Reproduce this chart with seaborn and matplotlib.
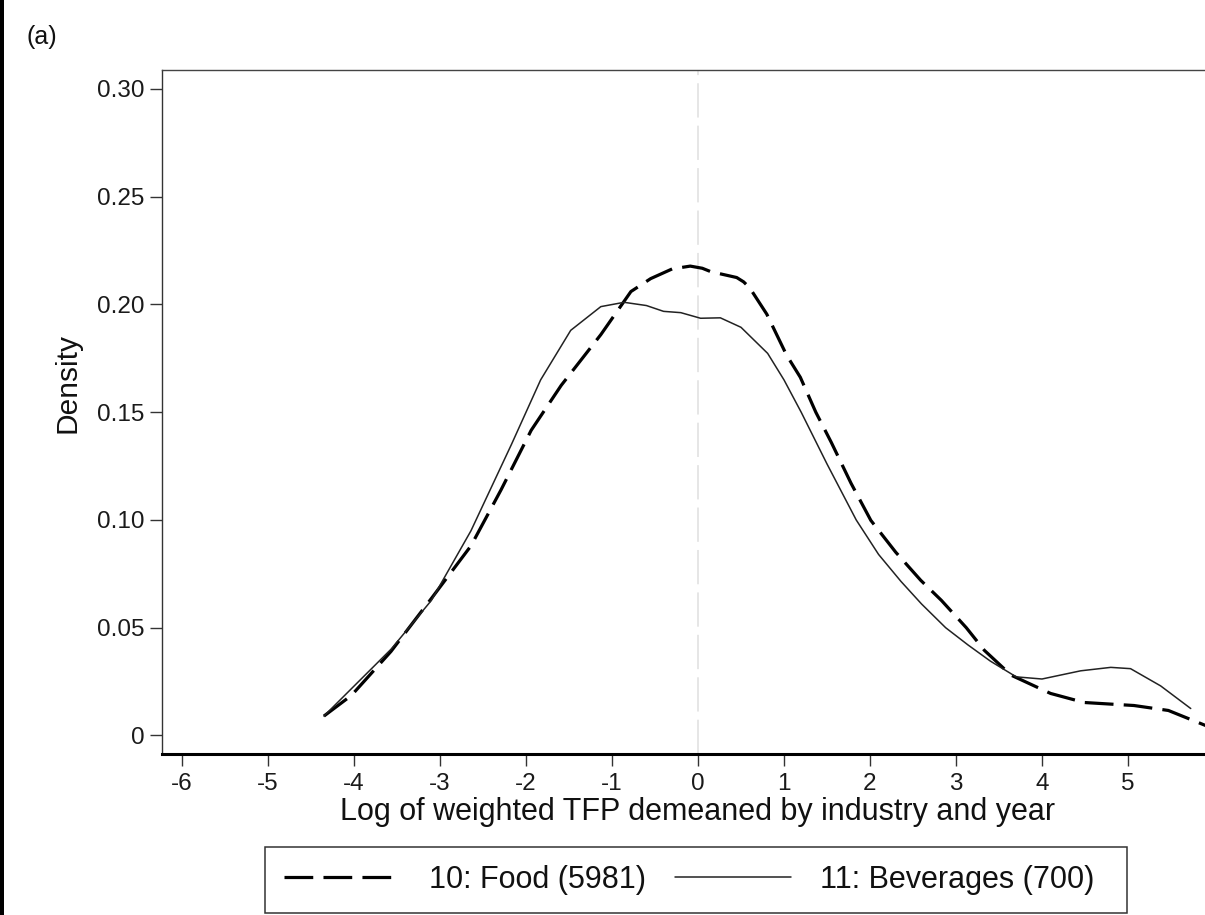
import matplotlib
matplotlib.use("Agg")
import matplotlib.pyplot as plt
import seaborn as sns
import pandas as pd
from matplotlib.patches import Rectangle
from matplotlib.lines import Line2D

# ---- data ----
food_x = [-4.35, -4.03, -3.57, -3.10, -2.64, -2.29, -1.94, -1.59, -1.13, -0.78,
          -0.55, -0.30, -0.09, 0.05, 0.15, 0.45, 0.53, 0.60, 0.80, 1.03,
          1.19, 1.37, 1.55, 1.78, 2.01, 2.30, 2.59, 2.83, 3.12, 3.33,
          3.64, 4.10, 4.49, 5.07, 5.47, 5.91]
food_y = [0.0090, 0.0186, 0.0390, 0.0636, 0.0880, 0.1140, 0.1416, 0.1625, 0.1860, 0.2060,
          0.2120, 0.2165, 0.2178, 0.2168, 0.2152, 0.2125, 0.2105, 0.2078, 0.1955, 0.1765,
          0.1662, 0.1500, 0.1360, 0.1170, 0.0998, 0.0850, 0.0720, 0.0627, 0.0500, 0.0395,
          0.0280, 0.0195, 0.0153, 0.0139, 0.0116, 0.0045]

bev_x = [-4.35, -3.57, -3.10, -2.64, -2.17, -1.83, -1.48, -1.13, -0.86, -0.60,
         -0.40, -0.20, 0.03, 0.26, 0.50, 0.81, 1.00, 1.20, 1.50, 1.84,
         2.10, 2.36, 2.60, 2.88, 3.14, 3.40, 3.70, 4.00, 4.45, 4.80,
         5.03, 5.38, 5.73]
bev_y = [0.0090, 0.0400, 0.0627, 0.0950, 0.1350, 0.1650, 0.1880, 0.1990, 0.2010, 0.1995,
         0.1968, 0.1962, 0.1936, 0.1938, 0.1894, 0.1773, 0.1650, 0.1500, 0.1260, 0.1000,
         0.0840, 0.0715, 0.0610, 0.0500, 0.0420, 0.0345, 0.0272, 0.0262, 0.0300, 0.0316,
         0.0310, 0.0230, 0.0125]

series_labels = ["10: Food (5981)", "11: Beverages (700)"]
x_ticks = [-6, -5, -4, -3, -2, -1, 0, 1, 2, 3, 4, 5]
y_ticks = [0, 0.05, 0.10, 0.15, 0.20, 0.25, 0.30]
y_tick_labels = ["0", "0.05", "0.10", "0.15", "0.20", "0.25", "0.30"]
x_label = "Log of weighted TFP demeaned by industry and year"
y_label = "Density"
panel_label = "(a)"

# ---- style ----
sns.set_theme(style="white")
plt.rcParams['font.family'] = ['Liberation Sans', 'DejaVu Sans']

W, H = 1205, 915
fig = plt.figure(figsize=(W / 100, H / 100), dpi=100)
fig.patch.set_facecolor("white")

ax_left, ax_right, ax_top, ax_bottom = 162, 1234, 70, 754
ax = fig.add_axes([ax_left / W, (H - ax_bottom) / H,
                   (ax_right - ax_left) / W, (ax_bottom - ax_top) / H])

food_df = pd.DataFrame({"x": food_x, "y": food_y})
bev_df = pd.DataFrame({"x": bev_x, "y": bev_y})

ax.axvline(0, color="#e4e4e4", lw=1.3, linestyle=(0, (19, 4.5)), zorder=1)

sns.lineplot(data=food_df, x="x", y="y", ax=ax, color="black", lw=2.3,
             linestyle=(0, (9, 3.2)), sort=False, estimator=None, zorder=3)
sns.lineplot(data=bev_df, x="x", y="y", ax=ax, color="#222222", lw=1.1,
             sort=False, estimator=None, zorder=3)

ax.set_xlim(-6.233, 6.233)
ax.set_ylim(-0.0086, 0.3088)
ax.set_xticks(x_ticks)
ax.set_xticklabels([str(t) for t in x_ticks])
ax.set_yticks(y_ticks)
ax.set_yticklabels(y_tick_labels)

ax.spines["right"].set_visible(False)
ax.spines["top"].set_color("#444444")
ax.spines["top"].set_linewidth(1.0)
ax.spines["left"].set_color("#333333")
ax.spines["left"].set_linewidth(1.0)
ax.spines["bottom"].set_color("black")
ax.spines["bottom"].set_linewidth(2.2)

ax.tick_params(axis="both", direction="out", length=8.5, width=1.0,
               color="#333333", labelsize=17.5, labelcolor="#1a1a1a")
ax.tick_params(axis="x", pad=5, bottom=True)
ax.tick_params(axis="y", pad=4, left=True)

ax.set_xlabel(x_label, fontsize=22, color="#111111")
ax.xaxis.set_label_coords(0.5, -0.063)
ax.set_ylabel(y_label, fontsize=21.5, color="#111111")
ax.yaxis.set_label_coords((68 - ax_left) / (ax_right - ax_left), 0.542)
ax.yaxis.label.set_va("center")

# legend (content) + separately drawn frame matching the reference box
handles = [Line2D([], [], color="black", lw=2.3, linestyle=(0, (9, 3.2))),
           Line2D([], [], color="#222222", lw=1.1)]
leg = fig.legend(handles, series_labels, loc="center",
                 bbox_to_anchor=(689 / W, 1 - 880 / H), ncol=2, fontsize=22,
                 frameon=False, handlelength=3.8,
                 handletextpad=0.95, columnspacing=0.95, borderpad=0.0,
                 labelcolor="#111111")
fig.patches.append(Rectangle((265 / W, 1 - 913 / H), (1127 - 265) / W, 66 / H,
                             transform=fig.transFigure, facecolor="none",
                             edgecolor="#333333", linewidth=1.1))

fig.text(27 / W, 1 - 37 / H, panel_label, fontsize=18, color="#111111",
         ha="left", va="center")

# black bar on the left edge of the image
fig.patches.append(Rectangle((0, 0), 4 / W, 1, transform=fig.transFigure,
                             facecolor="black", edgecolor="none"))

fig.savefig("out.png", dpi=100)
